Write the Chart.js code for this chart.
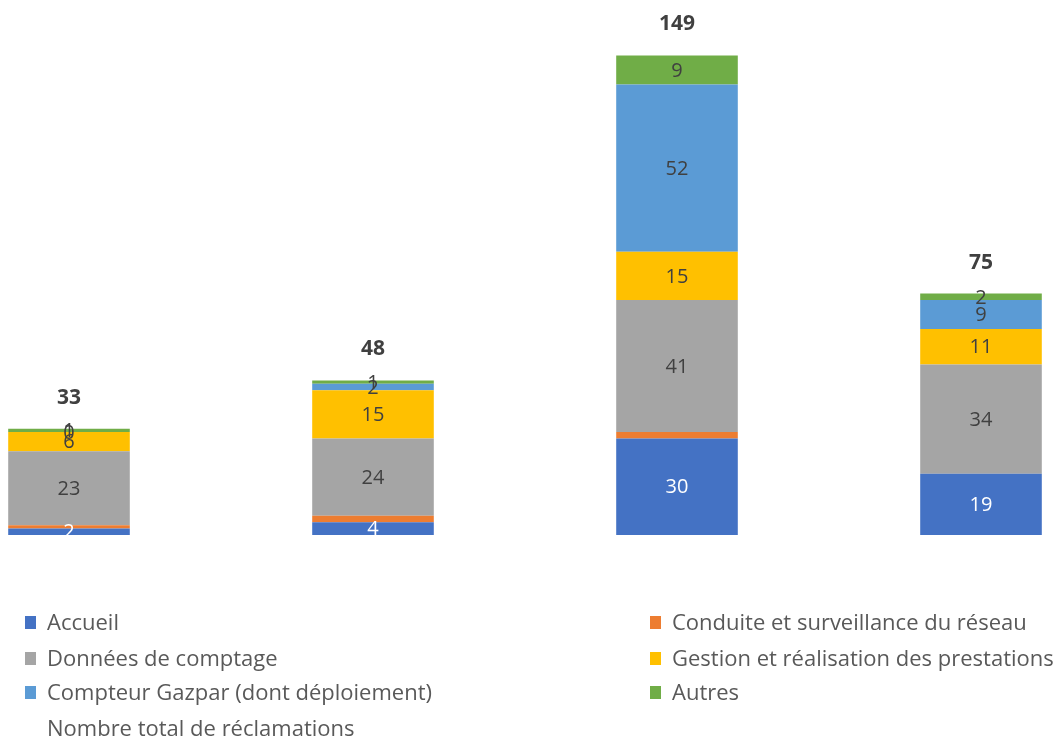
<!DOCTYPE html>
<html>
<head>
<meta charset="utf-8">
<script src="https://cdn.jsdelivr.net/npm/chart.js@4.4.0/dist/chart.umd.min.js"></script>
<style>
  body { margin: 0; background: #fff; overflow: hidden; width: 1059px; height: 737px; position: relative; font-family: "Open Sans", sans-serif; }
  #wrap { position: absolute; left: -83px; top: 0; width: 1216px; height: 560px; }
  #legende { position: absolute; left: 0; top: 0; width: 1059px; height: 737px; pointer-events: none; }
  .item { position: absolute; display: flex; align-items: center; font-size: 22px; line-height: 26px; color: #595959; white-space: nowrap; }
  .carre { width: 11px; height: 13px; margin-right: 11px; margin-top: 2px; }
</style>
</head>
<body>
<div id="wrap"><canvas id="graphique"></canvas></div>
<div id="legende"></div>
<script>
// --- Données ---
const categories = ["A", "B", "C", "D"];
const accueil   = [2, 4, 30, 19];
const conduite  = [1, 2, 2, 0];
const donnees   = [23, 24, 41, 34];
const gestion   = [6, 15, 15, 11];
const gazpar    = [0, 2, 52, 9];
const autres    = [1, 1, 9, 2];
const totaux    = [33, 48, 149, 75];

const series = [
  { nom: "Accueil", data: accueil, couleur: "#4472C4", texte: "#ffffff", etiquette: true },
  { nom: "Conduite et surveillance du réseau", data: conduite, couleur: "#ED7D31", etiquette: false },
  { nom: "Données de comptage", data: donnees, couleur: "#A5A5A5", texte: "#404040", etiquette: true },
  { nom: "Gestion et réalisation des prestations", data: gestion, couleur: "#FFC000", texte: "#404040", etiquette: true },
  { nom: "Compteur Gazpar (dont déploiement)", data: gazpar, couleur: "#5B9BD5", texte: "#404040", etiquette: true },
  { nom: "Autres", data: autres, couleur: "#70AD47", texte: "#404040", etiquette: true }
];
const nomTotal = "Nombre total de réclamations";

// --- Étiquettes ---
const etiquettes = {
  id: "etiquettes",
  afterDatasetsDraw(chart) {
    const ctx = chart.ctx;
    ctx.save();
    ctx.textAlign = "center";
    ctx.textBaseline = "middle";
    chart.data.datasets.forEach((ds, i) => {
      const meta = chart.getDatasetMeta(i);
      if (ds.type === "line") {
        ctx.font = "bold 21px 'Open Sans', sans-serif";
        ctx.fillStyle = "#404040";
        meta.data.forEach((p, j) => ctx.fillText(ds.data[j], p.x, p.y - 31));
        return;
      }
      const s = series[i];
      if (!s.etiquette) return;
      ctx.font = "20px 'Open Sans', sans-serif";
      ctx.fillStyle = s.texte;
      meta.data.forEach((b, j) => {
        ctx.fillText(ds.data[j], b.x, (b.y + b.base) / 2 + 1);
      });
    });
    ctx.restore();
  }
};

const datasets = series.map(s => ({
  type: "bar",
  label: s.nom,
  data: s.data,
  backgroundColor: s.couleur,
  categoryPercentage: 1,
  barPercentage: 0.4
}));
datasets.push({
  type: "line",
  label: nomTotal,
  data: totaux,
  stack: "total",
  showLine: false,
  pointRadius: 0,
  borderColor: "transparent"
});

new Chart(document.getElementById("graphique"), {
  data: { labels: categories, datasets },
  options: {
    responsive: true,
    maintainAspectRatio: false,
    animation: false,
    layout: { padding: { top: 20, bottom: 25, left: 0, right: 0 } },
    plugins: { legend: { display: false }, tooltip: { enabled: false } },
    scales: {
      x: { display: false, stacked: true, offset: true },
      y: { display: false, stacked: true, min: 0, max: 160 }
    }
  },
  plugins: [etiquettes]
});

// --- Légende ---
const legende = document.getElementById("legende");
const positions = [
  [25, 621], [650, 621],
  [25, 657], [650, 657],
  [25, 691], [650, 691]
];
series.forEach((s, i) => {
  const d = document.createElement("div");
  d.className = "item";
  d.style.left = positions[i][0] + "px";
  d.style.top = (positions[i][1] - 13) + "px";
  d.innerHTML = '<span class="carre" style="background:' + s.couleur + '"></span>' + s.nom;
  legende.appendChild(d);
});
const t = document.createElement("div");
t.className = "item";
t.style.left = "47px";
t.style.top = (727 - 13) + "px";
t.textContent = nomTotal;
legende.appendChild(t);
</script>
</body>
</html>
